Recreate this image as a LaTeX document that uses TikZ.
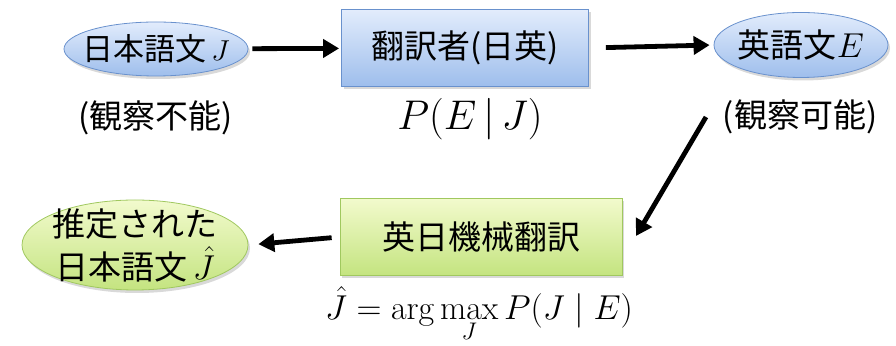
\documentclass[tikz,border=0pt]{standalone}
\usepackage{fontspec}
\newfontfamily\jpfont{Noto Sans CJK JP}
\usetikzlibrary{shapes.geometric,shadows,arrows.meta}

\definecolor{blueTop}{RGB}{226,236,252}
\definecolor{blueBot}{RGB}{158,190,236}
\definecolor{blueLine}{RGB}{105,145,205}
\definecolor{greenTop}{RGB}{242,250,205}
\definecolor{greenBot}{RGB}{196,228,128}
\definecolor{greenLine}{RGB}{160,200,95}

\begin{document}
\begin{tikzpicture}[x=0.5pt,y=-0.5pt]

		\tikzstyle{jtext} = [font=\jpfont\fontsize{16.5}{19}\selectfont, align=center, inner sep=0pt]
		
		\tikzstyle{bluesent} = [jtext, ellipse, draw=blueLine, top color=blueTop, bottom color=blueBot, drop shadow={opacity=0.3, shadow xshift=1pt, shadow yshift=-1.5pt}]
		
		\tikzstyle{greensent} = [jtext, ellipse, draw=greenLine, top color=greenTop, bottom color=greenBot, drop shadow={opacity=0.3, shadow xshift=1pt, shadow yshift=-1.5pt}]
		
		\tikzstyle{translator} = [jtext, rectangle, draw=blueLine, top color=blueTop, bottom color=blueBot, minimum width=123.5pt, minimum height=38.5pt, drop shadow={opacity=0.3, shadow xshift=1pt, shadow yshift=-1.5pt}]
		
		\tikzstyle{machine} = [jtext, rectangle, draw=greenLine, top color=greenTop, bottom color=greenBot, minimum width=141pt, minimum height=38.5pt, drop shadow={opacity=0.3, shadow xshift=1pt, shadow yshift=-1.5pt}]
		
		\tikzstyle{links} = [-{Triangle[length=8pt,width=9pt]}, line width=2.4pt]
		
		\useasboundingbox (0,0) rectangle (896,346);
		
		\node[bluesent, font=\jpfont\fontsize{15.5}{19}\selectfont, inner xsep=-9pt, inner ysep=0pt, minimum width=92pt, minimum height=27pt] at (156,49) (japanese) {日本語文\,$J$};
		\node[translator] at (465,48) (human) {翻訳者(日英)};
		\node[bluesent, inner xsep=-2pt, inner ysep=0pt, minimum width=87pt, minimum height=32.5pt] at (801,45) (english) {英語文$E$};
		
		\node[jtext] at (156,118) (unobserved) {(観察不能)};
		\node[jtext] at (800,117) (observed) {(観察可能)};
		\node[font=\fontsize{20}{24}\selectfont] at (470,119) (channel) {$P(E\,|\,J)$};
		
		\node[machine] at (481,237) (mt) {英日機械翻訳};
		\node[greensent, font=\jpfont\fontsize{16.5}{21.5}\selectfont, inner xsep=-3pt, inner ysep=-5pt, minimum width=113pt, minimum height=45pt] at (135,245) (estimate) {推定された\\日本語文\,$\hat{J}$};
		
		\node[font=\fontsize{17}{20}\selectfont] at (479,314) (decoder) {$\hat{J} = \arg\max\limits_{J} P(J \mid E)$};
		
		\coordinate (diagstart) at (706,117);
		\coordinate (diagend) at (636,236);
		
		\draw[links, shorten <=2pt, shorten >=1pt] (japanese) -- (human);
		\draw[links, shorten <=8.5pt, shorten >=2pt] (human.east) -- (english.west);
		\draw[links] (diagstart) -- (diagend);
		\draw[links, shorten <=4pt, shorten >=5pt] (mt.west) -- (estimate.east);
	\end{tikzpicture}
\end{document}
